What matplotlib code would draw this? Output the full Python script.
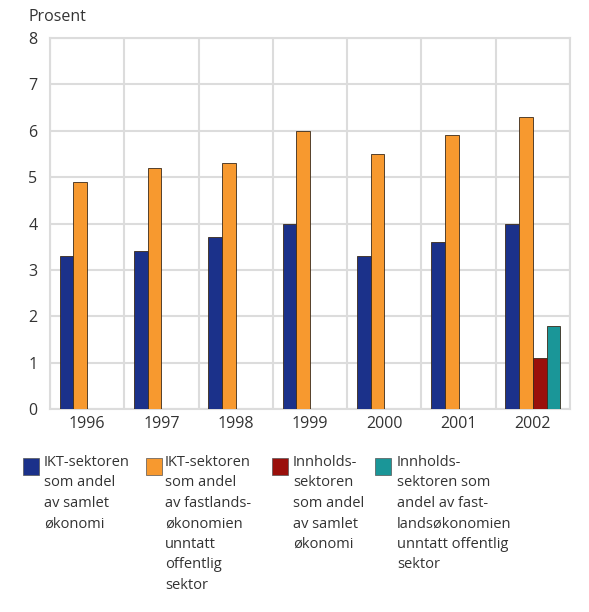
import matplotlib
matplotlib.use("Agg")
import matplotlib.pyplot as plt
from matplotlib.patches import Rectangle
import numpy as np

plt.rcParams['font.family'] = ['Open Sans', 'DejaVu Sans']

years = ["1996", "1997", "1998", "1999", "2000", "2001", "2002"]
ikt_samlet = [3.3, 3.4, 3.7, 4.0, 3.3, 3.6, 4.0]
ikt_fastland = [4.9, 5.2, 5.3, 6.0, 5.5, 5.9, 6.3]
innhold_samlet = [np.nan, np.nan, np.nan, np.nan, np.nan, np.nan, 1.1]
innhold_fastland = [np.nan, np.nan, np.nan, np.nan, np.nan, np.nan, 1.8]

series = [ikt_samlet, ikt_fastland, innhold_samlet, innhold_fastland]
labels = [
    "IKT-sektoren\nsom andel\nav samlet\nøkonomi",
    "IKT-sektoren\nsom andel\nav fastlands-\nøkonomien\nunntatt\noffentlig\nsektor",
    "Innholds-\nsektoren\nsom andel\nav samlet\nøkonomi",
    "Innholds-\nsektoren som\nandel av fast-\nlandsøkonomien\nunntatt offentlig\nsektor",
]
colors = ["#1b318a", "#f7992f", "#9a0f0b", "#1a9698"]

fig = plt.figure(figsize=(5.89, 6.12), dpi=100)
W, H = 589, 612
ax = fig.add_axes([50 / W, 1 - 409 / H, 520 / W, 371 / H])

x = np.arange(len(years))
w = 0.185
for k, (vals, c) in enumerate(zip(series, colors)):
    ax.bar(x + (k - 1.5) * w, vals, width=w, color=c,
           edgecolor="#3a2a1a", linewidth=0.6, zorder=3)

ax.set_xlim(-0.5, len(years) - 0.5)
ax.set_ylim(0, 8)
ax.set_yticks(range(0, 9))
ax.set_xticks(x)
ax.set_xticklabels(years)
ax.set_xticks(np.arange(-0.5, len(years)), minor=True)
ax.grid(True, which="major", axis="y", color="#dcdcdc", linewidth=1.5, zorder=0)
ax.grid(True, which="minor", axis="x", color="#dcdcdc", linewidth=1.5, zorder=0)
ax.tick_params(which="both", length=0)
ax.tick_params(axis="both", labelsize=11.5, colors="#333333")
ax.tick_params(axis="y", pad=9)
ax.tick_params(axis="x", pad=5)
for s in ax.spines.values():
    s.set_color("#dcdcdc")
    s.set_linewidth(1.5)

fig.text(28 / W, 1 - 17 / H, "Prosent", fontsize=11.5, color="#333333",
         va="center", ha="left")

# legend: colour boxes with wrapped labels underneath the chart
box_x = [23, 146, 272, 375]
txt_x = [44, 165, 293, 397]
for bx, tx, lab, c in zip(box_x, txt_x, labels, colors):
    fig.patches.append(Rectangle((bx / W, 1 - 475 / H), 16 / W, 17 / H,
                                 transform=fig.transFigure, facecolor=c,
                                 edgecolor="#555555", linewidth=0.5))
    fig.text(tx / W, 1 - 455 / H, lab, fontsize=10.5, color="#333333",
             va="top", ha="left", linespacing=1.5)

fig.savefig("out.png", dpi=100)
